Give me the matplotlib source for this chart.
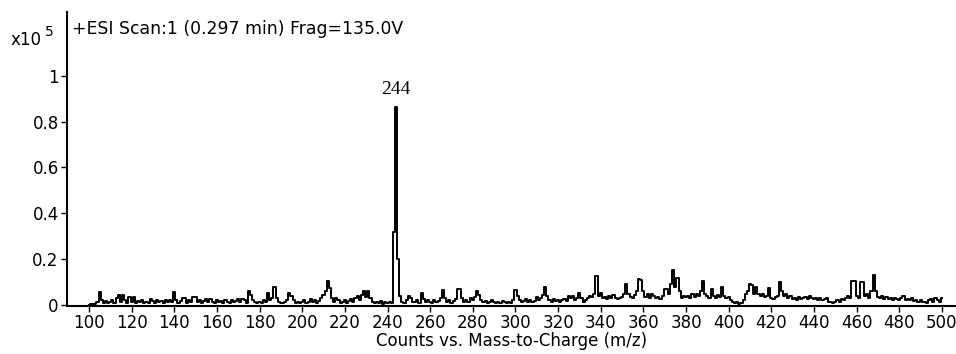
import numpy as np
import matplotlib.pyplot as plt

# m/z axis, one point per unit
mz = np.arange(100, 501)

# counts (x10^5) for m/z 100..500, 20 values per row
counts = [
    0.0, 0.004, 0.006, 0.005, 0.012, 0.057, 0.02, 0.01, 0.018, 0.008, 0.015, 0.022, 0.01, 0.03, 0.045, 0.012, 0.043, 0.02, 0.008, 0.035,
    0.015, 0.035, 0.01, 0.018, 0.012, 0.02, 0.008, 0.014, 0.01, 0.025, 0.018, 0.01, 0.02, 0.012, 0.016, 0.008, 0.02, 0.012, 0.022, 0.015,
    0.057, 0.02, 0.01, 0.018, 0.032, 0.03, 0.01, 0.02, 0.012, 0.036, 0.034, 0.015, 0.02, 0.01, 0.018, 0.025, 0.012, 0.025, 0.015, 0.01,
    0.02, 0.012, 0.018, 0.008, 0.02, 0.015, 0.01, 0.022, 0.012, 0.018, 0.025, 0.015, 0.028, 0.02, 0.01, 0.061, 0.045, 0.02, 0.012, 0.008,
    0.015, 0.01, 0.02, 0.012, 0.054, 0.02, 0.03, 0.078, 0.03, 0.015, 0.01, 0.008, 0.012, 0.02, 0.054, 0.04, 0.02, 0.01, 0.015, 0.008,
    0.012, 0.02, 0.01, 0.015, 0.028, 0.012, 0.02, 0.01, 0.018, 0.03, 0.046, 0.06, 0.107, 0.075, 0.03, 0.012, 0.032, 0.02, 0.01, 0.015,
    0.022, 0.01, 0.018, 0.025, 0.015, 0.03, 0.041, 0.02, 0.046, 0.061, 0.035, 0.062, 0.03, 0.012, 0.008, 0.015, 0.01, 0.018, 0.006, 0.012,
    0.01, 0.015, 0.008, 0.317, 0.865, 0.2, 0.041, 0.012, 0.01, 0.02, 0.041, 0.03, 0.015, 0.012, 0.02, 0.01, 0.054, 0.025, 0.012, 0.02,
    0.015, 0.01, 0.02, 0.012, 0.018, 0.03, 0.064, 0.03, 0.015, 0.02, 0.01, 0.018, 0.025, 0.072, 0.072, 0.03, 0.015, 0.02, 0.012, 0.03,
    0.02, 0.035, 0.061, 0.045, 0.02, 0.012, 0.018, 0.01, 0.015, 0.02, 0.012, 0.008, 0.015, 0.01, 0.018, 0.012, 0.008, 0.015, 0.01, 0.02,
    0.064, 0.04, 0.02, 0.012, 0.018, 0.025, 0.015, 0.02, 0.012, 0.018, 0.035, 0.02, 0.03, 0.045, 0.078, 0.04, 0.02, 0.015, 0.025, 0.018,
    0.022, 0.015, 0.02, 0.025, 0.018, 0.04, 0.03, 0.04, 0.02, 0.03, 0.054, 0.03, 0.015, 0.02, 0.03, 0.04, 0.035, 0.05, 0.126, 0.04,
    0.054, 0.03, 0.035, 0.025, 0.04, 0.03, 0.045, 0.03, 0.025, 0.03, 0.035, 0.05, 0.092, 0.05, 0.035, 0.03, 0.045, 0.06, 0.113, 0.11,
    0.06, 0.035, 0.05, 0.03, 0.05, 0.04, 0.03, 0.035, 0.025, 0.04, 0.068, 0.07, 0.05, 0.09, 0.155, 0.08, 0.119, 0.06, 0.03, 0.04,
    0.035, 0.04, 0.03, 0.05, 0.035, 0.05, 0.04, 0.06, 0.107, 0.05, 0.04, 0.03, 0.068, 0.04, 0.03, 0.045, 0.035, 0.078, 0.04, 0.03,
    0.035, 0.02, 0.012, 0.008, 0.012, 0.006, 0.01, 0.02, 0.05, 0.06, 0.092, 0.087, 0.05, 0.081, 0.05, 0.04, 0.05, 0.035, 0.04, 0.075,
    0.03, 0.025, 0.035, 0.04, 0.101, 0.06, 0.04, 0.05, 0.03, 0.04, 0.025, 0.03, 0.02, 0.035, 0.025, 0.03, 0.035, 0.025, 0.04, 0.03,
    0.025, 0.03, 0.02, 0.03, 0.02, 0.025, 0.03, 0.015, 0.012, 0.01, 0.015, 0.02, 0.015, 0.025, 0.02, 0.03, 0.04, 0.03, 0.107, 0.107,
    0.04, 0.03, 0.101, 0.101, 0.04, 0.05, 0.03, 0.06, 0.13, 0.06, 0.035, 0.03, 0.04, 0.025, 0.035, 0.025, 0.03, 0.02, 0.03, 0.025,
    0.02, 0.03, 0.04, 0.02, 0.025, 0.02, 0.03, 0.018, 0.02, 0.015, 0.02, 0.012, 0.015, 0.01, 0.02, 0.025, 0.015, 0.03, 0.02, 0.015,
    0.03,
]

base_peak = 244
title = "+ESI Scan:1 (0.297 min) Frag=135.0V"
x_ticks = list(range(100, 501, 20))
y_ticks = [0, 0.2, 0.4, 0.6, 0.8, 1]
y_tick_labels = ["0", "0.2", "0.4", "0.6", "0.8", "1"]

fig = plt.figure(figsize=(9.56, 3.54), dpi=100)
ax = fig.add_axes([67 / 956, 48 / 354, 889 / 956, 294 / 354])

ax.plot(mz, counts, drawstyle="steps-mid", color="black", linewidth=1.4)

peak_height = counts[list(mz).index(base_peak)]
ax.text(base_peak, peak_height + 0.04, str(base_peak), ha="center", va="bottom",
        fontsize=14, family="Liberation Serif")

ax.set_xlim(89.7, 506.6)
ax.set_ylim(-0.004, 1.278)

ax.set_xticks(x_ticks)
ax.set_yticks(y_ticks)
ax.set_yticklabels(y_tick_labels)
ax.tick_params(axis="both", direction="out", length=4, width=1, labelsize=12, pad=2)

for side in ["top", "right"]:
    ax.spines[side].set_visible(False)
ax.spines["left"].set_linewidth(1.5)
ax.spines["bottom"].set_linewidth(1.5)

ax.set_xlabel("Counts vs. Mass-to-Charge (m/z)", fontsize=12, labelpad=0)

fig.text(72 / 956, 1 - 29 / 354, title, fontsize=12.4, va="center", ha="left")
fig.text(11 / 956, 1 - 40 / 354, "x10", fontsize=12, va="center", ha="left")
fig.text(45 / 956, 1 - 32 / 354, "5", fontsize=10, va="center", ha="left")

plt.savefig("out.png", dpi=100)
